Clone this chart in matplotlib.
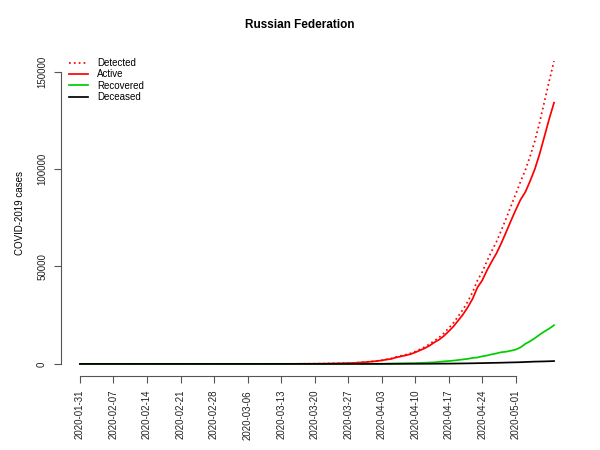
import numpy as np
import matplotlib
matplotlib.use("Agg")
import matplotlib.pyplot as plt
import matplotlib.dates as mdates

plt.rcParams['font.family'] = ['Liberation Sans', 'DejaVu Sans']

title = "Russian Federation"
ylabel = "COVID-2019 cases"
start_date = "2020-01-31"
end_date = "2020-05-09"

detected = [
    0, 0, 0, 0,
    2, 2, 2, 2, 2, 2, 2, 2, 2, 2, 2, 2, 2, 2, 2, 2, 2, 2, 2, 2, 2, 2, 2, 2, 2, 2, 2, 2, 2, 2, 2,
    3, 3, 3, 4, 13, 13, 17, 17, 20, 20,
    28, 45, 59, 63, 90, 114, 147, 199, 253, 306,
    367, 438, 495, 658, 840, 1036, 1264, 1534, 1836, 2337,
    2777, 3548, 4149, 4731, 5389, 6343, 7497, 8672, 10131, 11917,
    13584, 15770, 18328, 21102, 24490, 27938, 32008, 36793, 42853, 47121,
    52763, 57999, 62773, 68622, 74588, 80949, 87147, 93558, 99399, 106498,
    114431, 124054, 134687, 145268, 155370,
]

recovered = [
    0, 0, 0, 0,
    0, 0, 0, 0, 0, 0, 0, 0, 0, 0, 0, 2, 2, 2, 2, 2, 2, 2, 2, 2, 2, 2, 2, 2, 2, 2, 2, 2, 2, 2, 2,
    2, 2, 2, 2, 2, 2, 2, 2, 3, 3,
    3, 3, 3, 5, 5, 5, 8, 9, 12, 12,
    16, 17, 22, 29, 38, 45, 49, 64, 66, 121,
    190, 235, 281, 333, 355, 406, 494, 580, 698, 794,
    1045, 1291, 1470, 1694, 1986, 2304, 2590, 3057, 3291, 3873,
    4300, 4900, 5400, 6000, 6250, 6767, 7346, 8456, 10286, 11619,
    13220, 15013, 16639, 18095, 19865,
]

deceased = [
    0, 0, 0, 0,
    0, 0, 0, 0, 0, 0, 0, 0, 0, 0, 0, 0, 0, 0, 0, 0, 0, 0, 0, 0, 0, 0, 0, 0, 0, 0, 0, 0, 0, 0, 0,
    0, 0, 0, 0, 0, 0, 0, 0, 0, 0,
    0, 0, 0, 0, 0, 0, 0, 1, 1, 1,
    1, 1, 1, 3, 3, 4, 4, 8, 9, 17,
    24, 30, 34, 43, 45, 47, 58, 63, 76, 94,
    106, 130, 148, 170, 198, 232, 273, 313, 361, 405,
    456, 513, 555, 615, 681, 747, 794, 867, 972, 1073,
    1169, 1222, 1280, 1356, 1451,
]

tick_labels = ["2020-01-31", "2020-02-07", "2020-02-14", "2020-02-21", "2020-02-28",
               "2020-03-06", "2020-03-13", "2020-03-20", "2020-03-27", "2020-04-03",
               "2020-04-10", "2020-04-17", "2020-04-24", "2020-05-01"]
y_ticks = [0, 50000, 100000, 150000]
legend_labels = ["Detected", "Active", "Recovered", "Deceased"]

dates = np.arange(np.datetime64(start_date), np.datetime64(end_date) + 1, dtype='datetime64[D]')
det = np.array(detected, dtype=float)
rec = np.array(recovered, dtype=float)
dec = np.array(deceased, dtype=float)
active = det - rec - dec

fig = plt.figure(figsize=(6, 4.5), dpi=100)
ax = fig.add_axes([61/600, 1 - 376/450, (573 - 61)/600, (376 - 49)/450])

lw = 1.25
l1, = ax.plot(dates, det, color="#FF0000", lw=lw, linestyle=(0, (1, 1.8)))
l2, = ax.plot(dates, active, color="#FF0000", lw=lw)
l3, = ax.plot(dates, rec, color="#00CD00", lw=lw)
l4, = ax.plot(dates, dec, color="black", lw=lw)

x0 = mdates.date2num(dates[0])
x1 = mdates.date2num(dates[-1])
span = x1 - x0
ax.set_xlim(x0 - 0.04 * span, x1 + 0.04 * span)
ymax = det.max()
ax.set_ylim(-0.04 * ymax, ymax * 1.04)

tick_dates = [mdates.date2num(np.datetime64(t)) for t in tick_labels]
ax.set_xticks(tick_dates)
ax.set_xticklabels(tick_labels, rotation=90, fontsize=7, color="#222222")
ax.set_yticks(y_ticks)
ax.set_yticklabels([str(v) for v in y_ticks], rotation=90, va="center", fontsize=7, color="#222222")

for s in ["top", "right"]:
    ax.spines[s].set_visible(False)
ax.spines["left"].set_bounds(y_ticks[0], y_ticks[-1])
ax.spines["bottom"].set_bounds(tick_dates[0], tick_dates[-1])
for s in ["left", "bottom"]:
    ax.spines[s].set_color("#555555")
    ax.spines[s].set_linewidth(0.8)
ax.tick_params(axis="both", length=5, width=0.8, color="#555555", pad=5)

ax.set_ylabel(ylabel, fontsize=7)
ax.yaxis.set_label_coords((25 - 61) / 512, 0.5)
fig.text(0.5, 1 - 25/450, title, ha="center", va="center", fontsize=8.5, fontweight="bold")

leg = fig.legend([l1, l2, l3, l4], legend_labels, loc="upper left",
                 bbox_to_anchor=(69/600, 1 - 58/450), frameon=False, fontsize=7,
                 handlelength=2.0, handletextpad=0.9, labelspacing=0.14,
                 borderpad=0, borderaxespad=0)

fig.savefig("out.png", dpi=100)
